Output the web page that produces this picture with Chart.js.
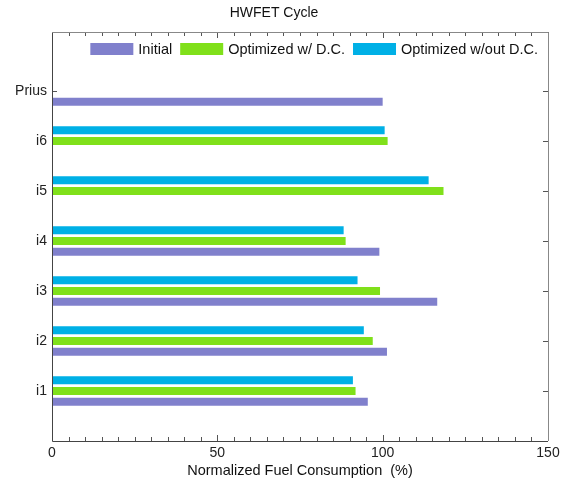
<!DOCTYPE html>
<html>
<head>
<meta charset="utf-8">
<script src="https://cdn.jsdelivr.net/npm/chart.js@4/dist/chart.umd.min.js"></script>
<style>
  html, body { margin: 0; padding: 0; background: #fff; }
  #wrap { width: 566px; height: 481px; }
</style>
</head>
<body>
<div id="wrap"><canvas id="c" width="566" height="481"></canvas></div>
<script>
// Vehicles, bottom to top
const categories = ['i1', 'i2', 'i3', 'i4', 'i5', 'i6', 'Prius'];
// Normalized fuel consumption (%) on the HWFET cycle
const initial      = [95.5, 101.3, 116.5, 99.0, null, null, 100.0];
const optWithDC    = [91.8, 97.0, 99.2, 88.8, 118.4, 101.5, null];
const optWithoutDC = [91.0, 94.3, 92.4, 88.2, 113.9, 100.6, null];
const xTicks = [0, 50, 100, 150];

const FONT = '"Liberation Sans", Arial, Helvetica, sans-serif';
const COLORS = { initial: '#8080cc', withDC: '#80e01a', withoutDC: '#00b0e6' };

const toPoints = arr => arr.map((v, i) => ({ x: v, y: i + 1 }));

// Inward tick marks on all four sides, plus the plot frame
const frameTicks = {
  id: 'frameTicks',
  beforeDatasetsDraw(chart) {
    const { ctx, chartArea: a, scales: { x, y } } = chart;
    ctx.save();
    ctx.strokeStyle = '#555';
    ctx.lineWidth = 1;
    ctx.beginPath();
    for (let v = 0; v <= 150; v += 5) {
      const px = Math.round(x.getPixelForValue(v)) + 0.5;
      const len = v % 50 === 0 ? 6 : 4;
      ctx.moveTo(px, a.bottom); ctx.lineTo(px, a.bottom - len);
      ctx.moveTo(px, a.top); ctx.lineTo(px, a.top + len);
    }
    categories.forEach((c, i) => {
      const py = Math.round(y.getPixelForValue(i + 1)) + 0.5;
      ctx.moveTo(a.left, py); ctx.lineTo(a.left + 5, py);
      ctx.moveTo(a.right, py); ctx.lineTo(a.right - 5, py);
    });
    ctx.stroke();
    ctx.restore();
  },
  afterDatasetsDraw(chart) {
    const { ctx, chartArea: a } = chart;
    ctx.save();
    ctx.lineWidth = 1;
    ctx.strokeStyle = '#444';
    ctx.beginPath();
    ctx.moveTo(Math.round(a.left) + 0.5, a.top);
    ctx.lineTo(Math.round(a.left) + 0.5, Math.round(a.bottom) + 0.5);
    ctx.lineTo(a.right, Math.round(a.bottom) + 0.5);
    ctx.stroke();
    ctx.strokeStyle = '#888';
    ctx.beginPath();
    ctx.moveTo(a.left, Math.round(a.top) + 0.5);
    ctx.lineTo(Math.round(a.right) + 0.5, Math.round(a.top) + 0.5);
    ctx.lineTo(Math.round(a.right) + 0.5, a.bottom);
    ctx.stroke();
    ctx.restore();
  }
};

// Legend row drawn inside the plot, right-aligned under the top edge
const insideLegend = {
  id: 'insideLegend',
  afterDraw(chart) {
    const { ctx, chartArea: a } = chart;
    const order = [2, 1, 0];
    const boxW = 43, boxH = 12, gapText = 5, gapItem = 8;
    ctx.save();
    ctx.font = '14.5px ' + FONT;
    const items = order.map(i => {
      const ds = chart.data.datasets[i];
      return { text: ds.label, color: ds.backgroundColor, w: ctx.measureText(ds.label).width };
    });
    const total = items.reduce((s, it) => s + boxW + gapText + it.w, 0) + gapItem * (items.length - 1);
    let x = a.right - 10 - total;
    const cy = a.top + 17;
    ctx.textBaseline = 'middle';
    ctx.textAlign = 'left';
    items.forEach(it => {
      ctx.fillStyle = it.color;
      ctx.fillRect(x, cy - boxH / 2, boxW, boxH);
      x += boxW + gapText;
      ctx.fillStyle = '#111';
      ctx.fillText(it.text, x, cy + 1);
      x += it.w + gapItem;
    });
    ctx.restore();
  }
};

new Chart(document.getElementById('c'), {
  type: 'bar',
  data: {
    datasets: [
      { label: 'Optimized w/out D.C.', data: toPoints(optWithoutDC), backgroundColor: COLORS.withoutDC },
      { label: 'Optimized w/ D.C.', data: toPoints(optWithDC), backgroundColor: COLORS.withDC },
      { label: 'Initial', data: toPoints(initial), backgroundColor: COLORS.initial }
    ]
  },
  options: {
    responsive: false,
    animation: false,
    indexAxis: 'y',
    categoryPercentage: 0.64,
    barPercentage: 0.75,
    layout: { padding: { left: 0, right: 18, top: 0, bottom: 0 } },
    plugins: {
      legend: { display: false },
      tooltip: { enabled: false },
      title: {
        display: true,
        text: 'HWFET Cycle',
        color: '#111',
        font: { family: FONT, size: 14, weight: 'normal', lineHeight: 1.2 },
        padding: { top: 4.6, bottom: 10.6 }
      }
    },
    scales: {
      x: {
        type: 'linear',
        min: 0,
        max: 150,
        offset: false,
        afterBuildTicks: axis => { axis.ticks = xTicks.map(v => ({ value: v })); },
        afterFit: axis => { axis.height = 40; },
        grid: { display: false, drawTicks: false },
        border: { display: false },
        ticks: { color: '#222', padding: 4, font: { family: FONT, size: 14 } },
        title: {
          display: true,
          text: 'Normalized Fuel Consumption  (%)',
          color: '#111',
          font: { family: FONT, size: 14.5, lineHeight: 1.2 },
          padding: { top: 0, bottom: 1.5 }
        }
      },
      y: {
        type: 'linear',
        min: 0,
        max: 8.18,
        offset: false,
        afterBuildTicks: axis => { axis.ticks = categories.map((c, i) => ({ value: i + 1 })); },
        afterFit: axis => { axis.width = 52; },
        grid: { display: false, drawTicks: false },
        border: { display: false },
        ticks: {
          color: '#222',
          padding: 5,
          font: { family: FONT, size: 14 },
          callback: v => categories[v - 1]
        }
      }
    }
  },
  plugins: [frameTicks, insideLegend]
});
</script>
</body>
</html>
